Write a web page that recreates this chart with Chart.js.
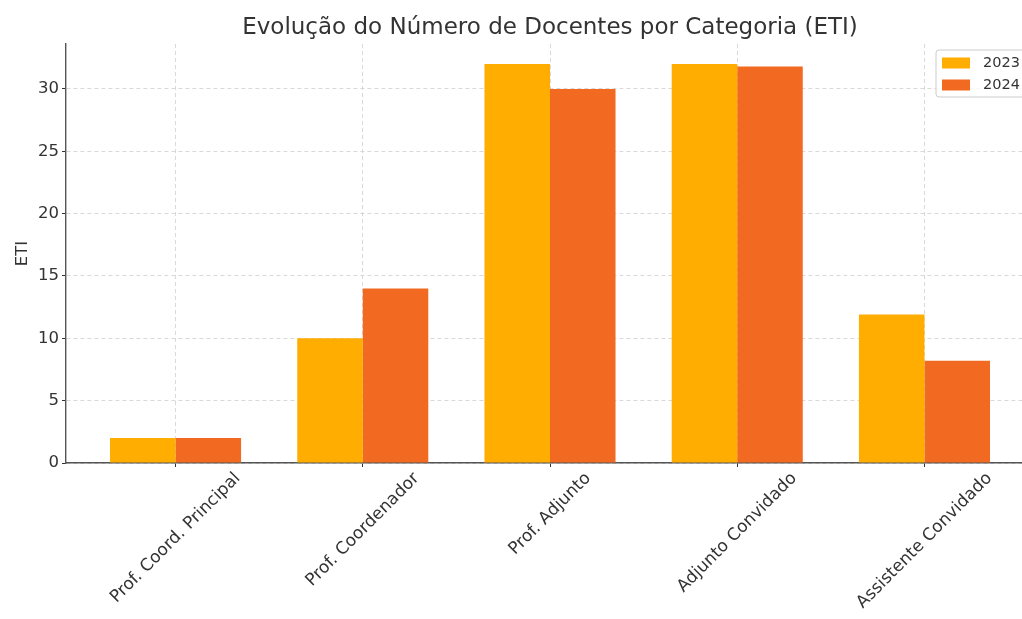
<!DOCTYPE html>
<html>
<head>
<meta charset="utf-8">
<script src="https://cdn.jsdelivr.net/npm/chart.js@4/dist/chart.umd.min.js"></script>
<style>
    html, body { margin: 0; padding: 0; background: #fff; overflow: hidden; width: 1022px; height: 619px; }
</style>
</head>
<body>
<canvas id="chart" width="1040" height="619"></canvas>
<script>
// data
const categories = [
    "Prof. Coord. Principal",
    "Prof. Coordenador",
    "Prof. Adjunto",
    "Adjunto Convidado",
    "Assistente Convidado",
];
const eti2023 = [2, 10, 32, 32, 11.9];
const eti2024 = [2, 14, 30, 31.8, 8.2];
const yTickValues = [0, 5, 10, 15, 20, 25, 30];
const seriesLabels = ["2023", "2024"];
const seriesColors = ["#FFAD00", "#F26A21"];

const FONT = "'DejaVu Sans', sans-serif";
const TEXT = "#333";

// rotated x labels, centred on the tick like matplotlib does
const xLabels = {
    id: "xLabels",
    afterDraw: (chart) => {
        const ctx = chart.ctx;
        const xs = chart.scales.x;
        const top = chart.chartArea.bottom + 6;
        ctx.save();
        ctx.font = `17px ${FONT}`;
        ctx.fillStyle = TEXT;
        ctx.textAlign = "center";
        ctx.textBaseline = "middle";
        categories.forEach((label, i) => {
            const w = ctx.measureText(label).width;
            const h = 19;
            const cx = xs.getPixelForValue(i);
            const cy = top + ((w + h) * Math.SQRT1_2) / 2;
            ctx.save();
            ctx.translate(cx, cy);
            ctx.rotate(-Math.PI / 4);
            ctx.fillText(label, 0, 0);
            ctx.restore();
        });
        ctx.restore();
    },
};

// legend box inside the plot, upper right
const legendBox = {
    id: "legendBox",
    afterDraw: (chart) => {
        const ctx = chart.ctx;
        const x = 936, y = 50, w = 100, h = 47, r = 3;
        ctx.save();
        ctx.beginPath();
        ctx.roundRect(x, y, w, h, r);
        ctx.fillStyle = "rgba(255,255,255,0.8)";
        ctx.fill();
        ctx.strokeStyle = "#cccccc";
        ctx.lineWidth = 1;
        ctx.stroke();
        ctx.font = `14.5px ${FONT}`;
        ctx.textBaseline = "middle";
        chart.data.datasets.forEach((ds, i) => {
            const rowY = 63 + i * 22;
            ctx.fillStyle = ds.backgroundColor;
            ctx.fillRect(942, rowY - 5.5, 28, 11);
            ctx.fillStyle = TEXT;
            ctx.fillText(ds.label, 983, rowY);
        });
        ctx.restore();
    },
};

const toPoints = (values) => values.map((v, i) => ({ x: i, y: v }));

new Chart(document.getElementById("chart").getContext("2d"), {
    type: "bar",
    data: {
        datasets: [
            {
                label: seriesLabels[0],
                data: toPoints(eti2023),
                backgroundColor: seriesColors[0],
            },
            {
                label: seriesLabels[1],
                data: toPoints(eti2024),
                backgroundColor: seriesColors[1],
            },
        ],
    },
    options: {
        responsive: false,
        animation: false,
        layout: { padding: { left: 0, right: 6, top: 0, bottom: 0 } },
        datasets: {
            bar: { categoryPercentage: 0.7, barPercentage: 1.0 },
        },
        plugins: {
            legend: { display: false },
            tooltip: { enabled: false },
            title: {
                display: true,
                fullSize: false,
                text: "Evolução do Número de Docentes por Categoria (ETI)",
                color: TEXT,
                font: { family: FONT, size: 23, weight: "normal", lineHeight: 1.2 },
                padding: { top: 14, bottom: 2.4 },
            },
        },
        scales: {
            x: {
                type: "linear",
                min: -0.585,
                max: 4.585,
                offset: false,
                grid: {
                    offset: false,
                    color: "#cfcfcf",
                    lineWidth: 0.8,
                    drawTicks: true,
                    tickLength: 4,
                    tickColor: "#333",
                    tickWidth: 1,
                    tickBorderDash: [],
                },
                border: { color: "#555", width: 1.4, dash: [4, 3] },
                ticks: { display: false },
                afterBuildTicks: (scale) => {
                    scale.ticks = categories.map((c, i) => ({ value: i }));
                },
                afterFit: (scale) => {
                    scale.height = 156;
                },
            },
            y: {
                min: 0,
                max: 33.6,
                grid: {
                    color: "#cfcfcf",
                    lineWidth: 0.8,
                    tickLength: 4,
                    tickColor: "#333",
                    tickWidth: 1,
                    tickBorderDash: [],
                },
                border: { color: "#555", width: 1.4, dash: [4, 3] },
                ticks: {
                    color: TEXT,
                    padding: 3,
                    font: { family: FONT, size: 16.5 },
                },
                afterBuildTicks: (scale) => {
                    scale.ticks = yTickValues.map((v) => ({ value: v }));
                },
                title: {
                    display: true,
                    text: "ETI",
                    color: TEXT,
                    font: { family: FONT, size: 16.5 },
                    padding: { top: 13, bottom: 0 },
                },
                afterFit: (scale) => {
                    scale.width = 66;
                },
            },
        },
    },
    plugins: [xLabels, legendBox],
});
</script>
</body>
</html>
